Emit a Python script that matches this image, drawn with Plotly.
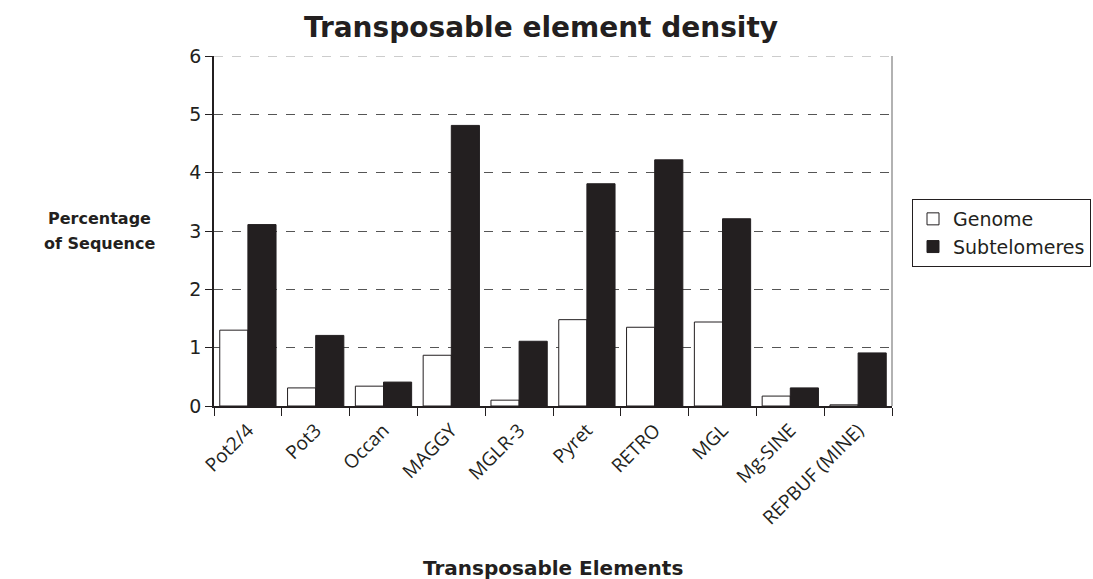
import plotly.graph_objects as go

categories = ["Pot2/4", "Pot3", "Occan", "MAGGY", "MGLR-3", "Pyret", "RETRO", "MGL", "Mg-SINE", "REPBUF (MINE)"]
genome = [1.30, 0.31, 0.34, 0.87, 0.10, 1.48, 1.35, 1.44, 0.17, 0.02]
subtelomeres = [3.11, 1.21, 0.41, 4.81, 1.11, 3.81, 4.22, 3.21, 0.31, 0.91]
y_ticks = [0, 1, 2, 3, 4, 5, 6]

fig = go.Figure()
fig.add_trace(go.Bar(x=categories, y=genome, name="Genome",
                     marker=dict(color="white", line=dict(color="#231f20", width=1))))
fig.add_trace(go.Bar(x=categories, y=subtelomeres, name="Subtelomeres",
                     marker=dict(color="#231f20", line=dict(color="#231f20", width=1))))

fig.update_layout(
    width=1093, height=579,
    margin=dict(l=214, r=201, t=56, b=173, autoexpand=False),
    paper_bgcolor="white", plot_bgcolor="white",
    barmode="group", bargap=0.17, bargroupgap=0,
    font=dict(family="DejaVu Sans", color="#231f20"),
    title=dict(text="<b>Transposable element density</b>", x=541 / 1093, xref="container",
               y=1 - 27 / 579, yref="container", yanchor="middle", xanchor="center",
               font=dict(size=28, family="DejaVu Sans", color="#231f20")),
    showlegend=True,
    legend=dict(x=(912 - 214) / 678, y=(406 - 199) / 350, xanchor="left", yanchor="top",
                bordercolor="#231f20", borderwidth=1, bgcolor="white",
                font=dict(size=19, family="DejaVu Sans", color="#231f20"),
                tracegroupgap=0, itemwidth=30),
    xaxis=dict(type="category", tickangle=-45, tickson="boundaries", ticks="outside",
               ticklen=8, tickcolor="#231f20", showline=True, linecolor="#231f20",
               linewidth=1.5, mirror=False, showgrid=False, ticklabelstandoff=4,
               tickfont=dict(size=19, family="Open Sans", color="#231f20")),
    yaxis=dict(range=[0, 6], tickvals=y_ticks, ticks="outside", ticklen=7,
               tickcolor="#231f20", showline=True, linecolor="#231f20", linewidth=1.5,
               showgrid=True, gridcolor="#555555", griddash="dash", gridwidth=1,
               zeroline=False,
               tickfont=dict(size=19, family="DejaVu Sans", color="#231f20")),
)

# top dashed line at 6 and right border of plot area
fig.add_shape(type="line", xref="paper", yref="y", x0=0, x1=1, y0=6, y1=6,
              line=dict(color="#999999", width=1.2, dash="dash"))
fig.add_shape(type="line", xref="paper", yref="paper", x0=1, x1=1, y0=0, y1=1,
              line=dict(color="#999999", width=1.5))

for txt, ypx in [("<b>Percentage</b>", 218), ("<b>of Sequence</b>", 243)]:
    fig.add_annotation(text=txt, xref="paper", yref="paper",
                       x=(99 - 214) / 678, y=(406 - ypx) / 350, showarrow=False,
                       xanchor="center", yanchor="middle", align="center",
                       font=dict(size=16, family="DejaVu Sans", color="#231f20"))
fig.add_annotation(text="<b>Transposable Elements</b>", xref="paper", yref="paper",
                   x=(553 - 214) / 678, y=(406 - 568) / 350, showarrow=False,
                   xanchor="center", yanchor="middle",
                   font=dict(size=20, family="DejaVu Sans", color="#231f20"))

fig.write_html("out.html", config={"displayModeBar": False},
               post_script="document.body.style.margin='0px';")
